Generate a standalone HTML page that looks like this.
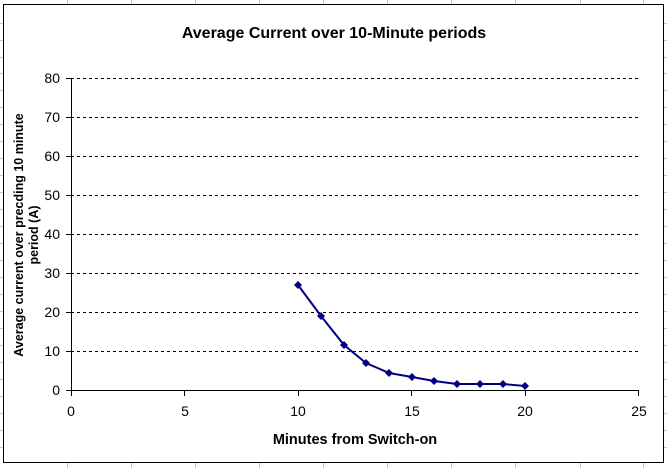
<!DOCTYPE html>
<html><head><style>body{margin:0;background:#fff}svg{display:block;font-family:"Liberation Sans",Arial,sans-serif}</style></head><body>
<svg width="669" height="468" viewBox="0 0 669 468">
<g stroke="#c8c8c8" stroke-width="1">
<line x1="67.5" y1="0" x2="67.5" y2="4"/><line x1="131.5" y1="0" x2="131.5" y2="4"/><line x1="195.5" y1="0" x2="195.5" y2="4"/>
<line x1="580.5" y1="462" x2="580.5" y2="468"/><line x1="643.5" y1="462" x2="643.5" y2="468"/>
<line x1="67.5" y1="462" x2="67.5" y2="468"/><line x1="131.5" y1="462" x2="131.5" y2="468"/><line x1="195.5" y1="462" x2="195.5" y2="468"/><line x1="259.5" y1="462" x2="259.5" y2="468"/><line x1="323.5" y1="462" x2="323.5" y2="468"/><line x1="387.5" y1="462" x2="387.5" y2="468"/><line x1="451.5" y1="462" x2="451.5" y2="468"/><line x1="515.5" y1="462" x2="515.5" y2="468"/>
<line x1="259.5" y1="0" x2="259.5" y2="4"/><line x1="323.5" y1="0" x2="323.5" y2="4"/><line x1="387.5" y1="0" x2="387.5" y2="4"/><line x1="451.5" y1="0" x2="451.5" y2="4"/><line x1="515.5" y1="0" x2="515.5" y2="4"/><line x1="580.5" y1="0" x2="580.5" y2="4"/><line x1="643.5" y1="0" x2="643.5" y2="4"/>
<g id="rl">
<line x1="0" y1="23.5" x2="3" y2="23.5"/><line x1="0" y1="40.5" x2="3" y2="40.5"/><line x1="0" y1="57.5" x2="3" y2="57.5"/><line x1="0" y1="73.5" x2="3" y2="73.5"/><line x1="0" y1="90.5" x2="3" y2="90.5"/><line x1="0" y1="107.5" x2="3" y2="107.5"/><line x1="0" y1="124.5" x2="3" y2="124.5"/><line x1="0" y1="141.5" x2="3" y2="141.5"/><line x1="0" y1="158.5" x2="3" y2="158.5"/><line x1="0" y1="175.5" x2="3" y2="175.5"/><line x1="0" y1="192.5" x2="3" y2="192.5"/><line x1="0" y1="209.5" x2="3" y2="209.5"/><line x1="0" y1="226.5" x2="3" y2="226.5"/><line x1="0" y1="243.5" x2="3" y2="243.5"/><line x1="0" y1="260.5" x2="3" y2="260.5"/><line x1="0" y1="277.5" x2="3" y2="277.5"/><line x1="0" y1="294.5" x2="3" y2="294.5"/><line x1="0" y1="311.5" x2="3" y2="311.5"/><line x1="0" y1="328.5" x2="3" y2="328.5"/><line x1="0" y1="345.5" x2="3" y2="345.5"/><line x1="0" y1="362.5" x2="3" y2="362.5"/><line x1="0" y1="379.5" x2="3" y2="379.5"/><line x1="0" y1="396.5" x2="3" y2="396.5"/><line x1="0" y1="413.5" x2="3" y2="413.5"/><line x1="0" y1="430.5" x2="3" y2="430.5"/><line x1="0" y1="447.5" x2="3" y2="447.5"/>
</g>
<use href="#rl" transform="translate(664,0)"/>
</g>
<rect x="3.5" y="4.5" width="660" height="458" fill="#fff" stroke="#000" stroke-width="1"/>
<text x="334" y="38" text-anchor="middle" font-size="16" font-weight="bold">Average Current over 10-Minute periods</text>
<g stroke="#000" stroke-width="1" stroke-dasharray="3,3">
<line x1="71" y1="78.5" x2="639" y2="78.5"/><line x1="71" y1="117.5" x2="639" y2="117.5"/><line x1="71" y1="156.5" x2="639" y2="156.5"/><line x1="71" y1="195.5" x2="639" y2="195.5"/><line x1="71" y1="234.5" x2="639" y2="234.5"/><line x1="71" y1="273.5" x2="639" y2="273.5"/><line x1="71" y1="312.5" x2="639" y2="312.5"/><line x1="71" y1="351.5" x2="639" y2="351.5"/>
</g>
<g stroke="#000" stroke-width="1">
<line x1="71.5" y1="78" x2="71.5" y2="390"/><line x1="71" y1="390.5" x2="639" y2="390.5"/>
<line x1="66" y1="78.5" x2="71" y2="78.5"/><line x1="66" y1="117.5" x2="71" y2="117.5"/><line x1="66" y1="156.5" x2="71" y2="156.5"/><line x1="66" y1="195.5" x2="71" y2="195.5"/><line x1="66" y1="234.5" x2="71" y2="234.5"/><line x1="66" y1="273.5" x2="71" y2="273.5"/><line x1="66" y1="312.5" x2="71" y2="312.5"/><line x1="66" y1="351.5" x2="71" y2="351.5"/><line x1="66" y1="390.5" x2="71" y2="390.5"/>
<line x1="71.5" y1="390" x2="71.5" y2="396"/><line x1="184.5" y1="390" x2="184.5" y2="396"/><line x1="298.5" y1="390" x2="298.5" y2="396"/><line x1="411.5" y1="390" x2="411.5" y2="396"/><line x1="525.5" y1="390" x2="525.5" y2="396"/><line x1="638.5" y1="390" x2="638.5" y2="396"/>
</g>
<g font-size="14" text-anchor="end">
<text x="60" y="83">80</text><text x="60" y="122">70</text><text x="60" y="161">60</text><text x="60" y="200">50</text><text x="60" y="239">40</text><text x="60" y="278">30</text><text x="60" y="317">20</text><text x="60" y="356">10</text><text x="60" y="395">0</text>
</g>
<g font-size="14" text-anchor="middle">
<text x="71" y="416">0</text><text x="185" y="416">5</text><text x="298" y="416">10</text><text x="412" y="416">15</text><text x="525" y="416">20</text><text x="639" y="416">25</text>
</g>
<text x="355" y="444" text-anchor="middle" font-size="14.5" font-weight="bold">Minutes from Switch-on</text>
<g transform="translate(23,235) rotate(-90)" font-size="12.5" font-weight="bold" text-anchor="middle">
<text x="0" y="0">Average current over precding 10 minute</text><text x="0" y="15">period (A)</text>
</g>
<polyline fill="none" stroke="#000080" stroke-width="2" points="298,285 321,316 344,345 366,363 389,373 412,377 434,381 457,384 480,384 503,384 525,386"/>
<g fill="#000080">
<path d="M298,281l4,4l-4,4l-4,-4z"/><path d="M321,312l4,4l-4,4l-4,-4z"/><path d="M344,341l4,4l-4,4l-4,-4z"/><path d="M366,359l4,4l-4,4l-4,-4z"/><path d="M389,369l4,4l-4,4l-4,-4z"/><path d="M412,373l4,4l-4,4l-4,-4z"/><path d="M434,377l4,4l-4,4l-4,-4z"/><path d="M457,380l4,4l-4,4l-4,-4z"/><path d="M480,380l4,4l-4,4l-4,-4z"/><path d="M503,380l4,4l-4,4l-4,-4z"/><path d="M525,382l4,4l-4,4l-4,-4z"/>
</g>
</svg>
</body></html>
